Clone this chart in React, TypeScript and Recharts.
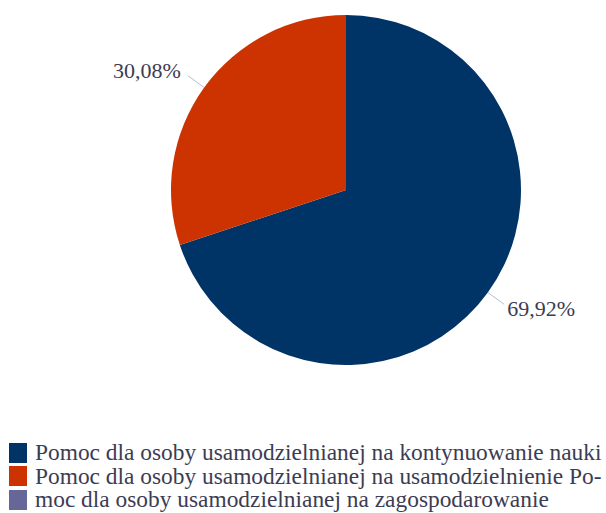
import React from 'react';
import { PieChart, Pie, Cell } from 'recharts';

const categories = [
  'Pomoc dla osoby usamodzielnianej na kontynuowanie nauki',
  'Pomoc dla osoby usamodzielnianej na usamodzielnienie',
  'Pomoc dla osoby usamodzielnianej na zagospodarowanie',
];
const values = [69.92, 30.08, 0];
const colors = ['#003366', '#cc3300', '#666699'];
const legendLines = [
  'Pomoc dla osoby usamodzielnianej na kontynuowanie nauki',
  'Pomoc dla osoby usamodzielnianej na usamodzielnienie Po-',
  'moc dla osoby usamodzielnianej na zagospodarowanie',
];

const data = categories.map((name, i) => ({ name, value: values[i] }));

const FONT = '"Liberation Serif", "DejaVu Serif", serif';
const TEXT = '#3c3c52';
const RAD = Math.PI / 180;

const renderLabel = (props: any) => {
  const { cx, cy, midAngle, outerRadius, value } = props;
  if (!value) return null;
  const r = Number(outerRadius) + 24;
  const cos = Math.cos(-midAngle * RAD);
  const sin = Math.sin(-midAngle * RAD);
  const x = Number(cx) + r * cos;
  const y = Number(cy) + r * sin;
  const anchor = cos >= 0 ? 'start' : 'end';
  return (
    <text
      key={'l' + value}
      x={x + (cos >= 0 ? 0 : -4)}
      y={y + (cos >= 0 ? 2 : -3)}
      textAnchor={anchor}
      dominantBaseline="central"
      fill={TEXT}
      style={{ fontFamily: FONT, fontSize: 22 }}
    >
      {value.toFixed(2).replace('.', ',') + '%'}
    </text>
  );
};

const renderLabelLine = (props: any) => {
  const { cx, cy, midAngle, outerRadius, value } = props;
  if (!value) return null;
  const cos = Math.cos(-midAngle * RAD);
  const sin = Math.sin(-midAngle * RAD);
  const r1 = Number(outerRadius);
  const r2 = r1 + 20;
  return (
    <line
      key={'ll' + value}
      x1={Number(cx) + r1 * cos}
      y1={Number(cy) + r1 * sin}
      x2={Number(cx) + r2 * cos}
      y2={Number(cy) + r2 * sin}
      stroke="#b4c0d0"
      strokeWidth={1}
    />
  );
};

export default function App() {
  return (
    <div style={{ position: 'absolute', left: 0, top: 0, width: 606, height: 513, background: '#fff' }}>
      <PieChart width={606} height={513} margin={{ top: 0, right: 0, bottom: 0, left: 0 }}>
        <Pie
          data={data}
          dataKey="value"
          nameKey="name"
          cx={346}
          cy={190}
          innerRadius={0}
          outerRadius={175}
          startAngle={90}
          endAngle={-270}
          isAnimationActive={false}
          label={renderLabel}
          labelLine={renderLabelLine}
        >
          {data.map((d, i) => (
            <Cell key={d.name} fill={colors[i]} stroke="none" />
          ))}
        </Pie>
      </PieChart>
      <div
        style={{
          position: 'absolute',
          left: 9,
          top: 441,
          fontFamily: FONT,
          fontSize: 23.4,
          color: TEXT,
        }}
      >
        {legendLines.map((line, i) => (
          <div key={i} style={{ display: 'flex', alignItems: 'center', height: 23.5 }}>
            <span
              style={{
                display: 'inline-block',
                width: 18,
                height: 20,
                background: colors[i],
                marginRight: 8,
                flex: 'none',
              }}
            />
            <span style={{ whiteSpace: 'nowrap', lineHeight: '23px' }}>{line}</span>
          </div>
        ))}
      </div>
    </div>
  );
}
